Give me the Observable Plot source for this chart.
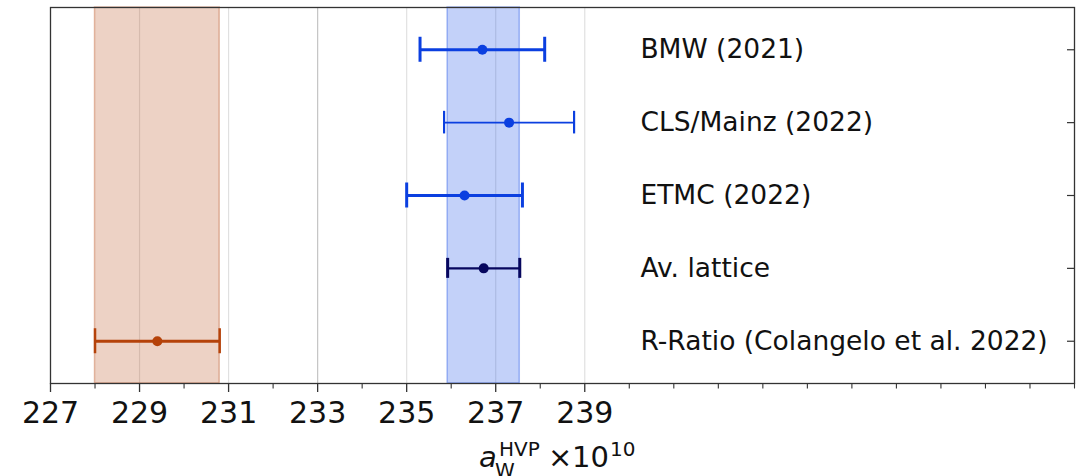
<!DOCTYPE html>
<html><head><meta charset="utf-8">
<script src="https://cdn.jsdelivr.net/npm/d3@7"></script>
<script src="https://cdn.jsdelivr.net/npm/@observablehq/plot@0.6"></script>
<style>html,body{margin:0;padding:0;background:#fff}svg{display:block}</style>
</head><body><div id="chart"></div>
<script>
// ---- data ----
const labels = ["BMW (2021)", "CLS/Mainz (2022)", "ETMC (2022)", "Av. lattice", "R-Ratio (Colangelo et al. 2022)"];
const values = [236.7, 237.30, 236.3, 236.73, 229.4];
const errors = [1.4, 1.46, 1.3, 0.81, 1.4];
const bandLabels = ["Av. lattice", "R-Ratio (Colangelo et al. 2022)"];
const majorTicks = [227, 229, 231, 233, 235, 237, 239];
const minorTicks = [228, 230, 232, 234, 236, 238, 240, 241, 242, 243, 244, 245, 246, 247, 248, 249, 250];
const gridTicks = [229, 231, 233, 233, 235, 237, 239];

// ---- layout / style ----
const W = 1082, H = 476;
const xDomain = [227, 250];
const yDomain = [0.42, 5.58];
const labelX = 240.25;
const styles = {
  "BMW (2021)": {color: "#0b3fe0", lw: 3, cap: 12.5, capW: 3},
  "CLS/Mainz (2022)": {color: "#0b3fe0", lw: 1.6, cap: 11.3, capW: 2.2},
  "ETMC (2022)": {color: "#0b3fe0", lw: 3, cap: 12.5, capW: 3},
  "Av. lattice": {color: "#07075e", lw: 2.4, cap: 10, capW: 3},
  "R-Ratio (Colangelo et al. 2022)": {color: "#b5420a", lw: 3, cap: 12.5, capW: 2.5}
};
const bandFill = {"Av. lattice": "#1048e6", "R-Ratio (Colangelo et al. 2022)": "#b84a18"};

const rows = labels.map((label, i) => ({
  label, value: values[i], lo: values[i] - errors[i], hi: values[i] + errors[i], row: labels.length - i
}));
const bands = rows.filter(d => bandLabels.includes(d.label));

// short horizontal tick pointing left from the anchor point (inward ticks on the right frame)
const inwardTick = {draw(ctx) { ctx.moveTo(-7.5, 0); ctx.lineTo(0, 0); }};

const marks = [
  Plot.ruleX(gridTicks, {stroke: "#000", strokeOpacity: 0.12, strokeWidth: 1.2}),
  ...bands.map(d => Plot.rect([d], {x1: "lo", x2: "hi", fill: bandFill[d.label], fillOpacity: 0.25, stroke: bandFill[d.label], strokeOpacity: 0.35, strokeWidth: 1.5})),
  ...rows.flatMap(d => {
    const s = styles[d.label];
    return [
      Plot.ruleY([d], {y: "row", x1: "lo", x2: "hi", stroke: s.color, strokeWidth: s.lw}),
      Plot.ruleX([d], {x: "lo", y1: "row", y2: "row", insetTop: -s.cap, insetBottom: -s.cap, stroke: s.color, strokeWidth: s.capW}),
      Plot.ruleX([d], {x: "hi", y1: "row", y2: "row", insetTop: -s.cap, insetBottom: -s.cap, stroke: s.color, strokeWidth: s.capW}),
      Plot.dot([d], {x: "value", y: "row", r: 5, fill: s.color, stroke: null})
    ];
  }),
  Plot.dot(rows, {x: () => xDomain[1], y: "row", symbol: inwardTick, stroke: "#333", strokeWidth: 1.2, fill: "none"}),
  Plot.text(rows, {x: () => labelX, y: "row", text: "label", textAnchor: "start", fontSize: 26.5, fill: "#111", fontFamily: "DejaVu Sans"}),
  Plot.axisX({ticks: majorTicks, tickSize: 9, tickPadding: 9, fontSize: 30, label: null, stroke: "#333", strokeWidth: 1.3, fill: "#111", tickFormat: d => String(d)}),
  Plot.axisX({ticks: minorTicks, tickSize: 5.5, label: null, stroke: "#333", strokeWidth: 1.1, tickFormat: () => ""}),
  Plot.frame({stroke: "#333", strokeWidth: 1.3})
];

const plot = Plot.plot({
  width: W, height: H,
  marginLeft: 50, marginRight: 8, marginTop: 7, marginBottom: 93,
  style: {fontFamily: "DejaVu Sans", background: "#fff"},
  x: {domain: xDomain, axis: null},
  y: {domain: yDomain, axis: null},
  marks
});
document.getElementById("chart").appendChild(plot);

// axis label: a_W^HVP × 10^10 (mathtext-like layout)
const svg = d3.select(plot);
const g = svg.append("g").attr("font-family", "DejaVu Sans").attr("fill", "#111");
const fs = 29, sfs = 20, base = 467;
const parts = [
  {t: "a", x: 479, dy: 0, size: fs, italic: true},
  {t: "W", x: 495, dy: 10, size: sfs},
  {t: "HVP", x: 499, dy: -11, size: sfs},
  {t: "\u00d7", x: 548, dy: 0, size: fs},
  {t: "10", x: 572, dy: 0, size: fs},
  {t: "10", x: 610, dy: -11, size: sfs}
];
for (const p of parts) {
  g.append("text").attr("x", p.x).attr("y", base + p.dy)
    .style("font-size", p.size + "px").style("font-style", p.italic ? "italic" : "normal")
    .attr("text-anchor", "start").text(p.t);
}
</script>
</body></html>
